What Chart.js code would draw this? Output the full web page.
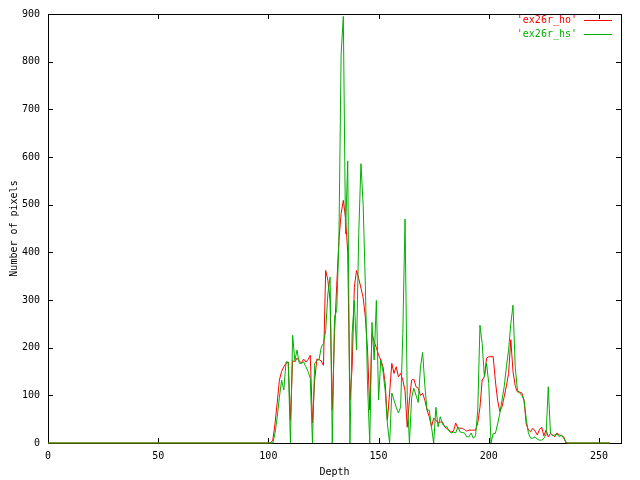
<html>

<head>
  <title>ex26r depth histogram</title>
  <script src="https://cdn.jsdelivr.net/npm/chart.js@4.4.0/dist/chart.umd.min.js"></script>
  <style>
    body { margin: 0; background: #fff; }
    #wrap { width: 640px; height: 480px; }
  </style>
</head>

<body>
  <div id="wrap"><canvas id="depthChart" width="640" height="480"></canvas></div>

  <script>
    // depth values (x) -- flat zero before 100 and after 236
    const depth = [0,
      100, 101, 102, 103, 104, 105, 106, 107, 108, 109,
      110, 111, 112, 113, 114, 115, 116, 117, 118, 119,
      120, 121, 122, 123, 124, 125, 126, 127, 128, 129,
      130, 131, 132, 133, 134, 135, 136, 137, 138, 139,
      140, 141, 142, 143, 144, 145, 146, 147, 148, 149,
      150, 151, 152, 153, 154, 155, 156, 157, 158, 159,
      160, 161, 162, 163, 164, 165, 166, 167, 168, 169,
      170, 171, 172, 173, 174, 175, 176, 177, 178, 179,
      180, 181, 182, 183, 184, 185, 186, 187, 188, 189,
      190, 191, 192, 193, 194, 195, 196, 197, 198, 199,
      200, 201, 202, 203, 204, 205, 206, 207, 208, 209,
      210, 211, 212, 213, 214, 215, 216, 217, 218, 219,
      220, 221, 222, 223, 224, 225, 226, 227, 228, 229,
      230, 231, 232, 233, 234, 235, 236,
      255];

    // 'ex26r_ho'
    const ho = [0,
      0, 0, 6, 40, 84, 132, 150, 160, 167, 170,
      48, 173, 170, 178, 172, 168, 176, 170, 175, 184,
      42, 132, 176, 175, 172, 163, 362, 341, 300, 69,
      230, 330, 425, 481, 509, 473, 400, 90, 159, 327,
      362, 345, 325, 305, 264, 195, 69, 230, 212, 200,
      185, 174, 160, 125, 48, 105, 167, 146, 160, 139,
      146, 132, 110, 33, 90, 132, 134, 118, 115, 100,
      104, 90, 69, 55, 34, 52, 48, 42, 44, 44,
      34, 30, 27, 23, 25, 42, 31, 31, 31, 28,
      25, 27, 27, 27, 27, 42, 75, 132, 139, 178,
      181, 181, 181, 130, 90, 66, 76, 97, 120, 146,
      217, 150, 120, 107, 107, 105, 90, 40, 27, 24,
      31, 25, 17, 28, 33, 15, 27, 13, 20, 17,
      13, 21, 17, 15, 13, 0, 0,
      0];

    // 'ex26r_hs'
    const hs = [0,
      0, 0, 0, 20, 54, 96, 132, 111, 170, 170,
      0, 226, 173, 195, 167, 167, 170, 160, 150, 136,
      0, 167, 173, 175, 201, 209, 236, 313, 348, 0,
      264, 278, 425, 816, 895, 439, 592, 0, 230, 299,
      195, 439, 586, 500, 330, 120, 0, 253, 174, 299,
      90, 174, 150, 110, 40, 0, 105, 90, 75, 63,
      75, 230, 470, 100, 0, 95, 115, 100, 85, 159,
      190, 120, 69, 69, 34, 0, 75, 34, 55, 40,
      34, 34, 25, 21, 23, 21, 34, 23, 22, 21,
      13, 13, 21, 10, 15, 69, 247, 209, 139, 167,
      125, 0, 20, 20, 40, 62, 90, 118, 160, 195,
      250, 289, 160, 111, 105, 100, 90, 50, 20, 10,
      10, 13, 8, 6, 6, 10, 17, 118, 20, 15,
      17, 19, 13, 17, 10, 2, 0,
      0];

    const seriesNames = ["'ex26r_ho'", "'ex26r_hs'"];
    const seriesColors = ["#ff0000", "#00b000"];

    const FONT = '"DejaVu Sans Mono", "Liberation Mono", monospace';

    // gnuplot style box with inward ticks on all four sides
    const frame = {
      id: 'frame',
      beforeDatasetsDraw(chart) {
        const { ctx, chartArea: a, scales } = chart;
        const len = 5;
        ctx.save();
        ctx.strokeStyle = '#000';
        ctx.lineWidth = 1;
        ctx.strokeRect(a.left + 0.5, a.top + 0.5, a.right - a.left, a.bottom - a.top);
        ctx.beginPath();
        scales.x.ticks.forEach(t => {
          const px = Math.round(scales.x.getPixelForValue(t.value)) + 0.5;
          ctx.moveTo(px, a.bottom); ctx.lineTo(px, a.bottom - len);
          ctx.moveTo(px, a.top); ctx.lineTo(px, a.top + len);
        });
        scales.y.ticks.forEach(t => {
          const py = Math.round(scales.y.getPixelForValue(t.value)) + 0.5;
          ctx.moveTo(a.left, py); ctx.lineTo(a.left + len, py);
          ctx.moveTo(a.right, py); ctx.lineTo(a.right - len, py);
        });
        ctx.stroke();
        ctx.restore();
      }
    };

    // key in the top right corner: label then line sample
    const key = {
      id: 'key',
      afterDraw(chart) {
        const { ctx } = chart;
        ctx.save();
        ctx.font = '10px ' + FONT;
        ctx.textAlign = 'right';
        ctx.textBaseline = 'middle';
        for (let i = 0; i < seriesNames.length; i++) {
          const yy = 20.5 + i * 14;
          ctx.fillStyle = seriesColors[i];
          ctx.fillText(seriesNames[i], 577, yy);
          ctx.strokeStyle = seriesColors[i];
          ctx.lineWidth = 1;
          ctx.beginPath();
          ctx.moveTo(584, yy); ctx.lineTo(612, yy);
          ctx.stroke();
        }
        ctx.restore();
      }
    };

    function points(values) {
      return depth.map((d, i) => ({ x: d, y: values[i] }));
    }

    Chart.defaults.font.family = FONT;
    Chart.defaults.font.size = 10;
    Chart.defaults.color = '#000';

    new Chart(document.getElementById('depthChart').getContext('2d'), {
      type: 'line',
      data: {
        datasets: [
          // higher order is drawn first, so green ends up on top like gnuplot
          { label: seriesNames[0], data: points(ho), borderColor: seriesColors[0], borderWidth: 1, pointRadius: 0, tension: 0, clip: false, order: 1 },
          { label: seriesNames[1], data: points(hs), borderColor: seriesColors[1], borderWidth: 1, pointRadius: 0, tension: 0, clip: false, order: 0 },
        ]
      },
      options: {
        responsive: false,
        animation: false,
        devicePixelRatio: 1,
        layout: { padding: { left: 0, top: 13, right: 19, bottom: 0 } },
        plugins: { legend: { display: false }, tooltip: { enabled: false } },
        scales: {
          x: {
            type: 'linear',
            min: 0, max: 260,
            grid: { display: false, drawTicks: false },
            border: { display: false },
            ticks: { stepSize: 50, includeBounds: false, padding: 7, maxRotation: 0 },
            title: { display: true, text: 'Depth', padding: { top: 0, bottom: 2 } },
            afterFit(scale) { scale.height = 37; }
          },
          y: {
            min: 0, max: 900,
            grid: { display: false, drawTicks: false },
            border: { display: false },
            ticks: { stepSize: 100, padding: 8 },
            title: { display: true, text: 'Number of pixels', padding: { top: 8, bottom: 0 } },
            afterFit(scale) { scale.width = 48; }
          }
        }
      },
      plugins: [frame, key]
    });
  </script>
</body>

</html>
